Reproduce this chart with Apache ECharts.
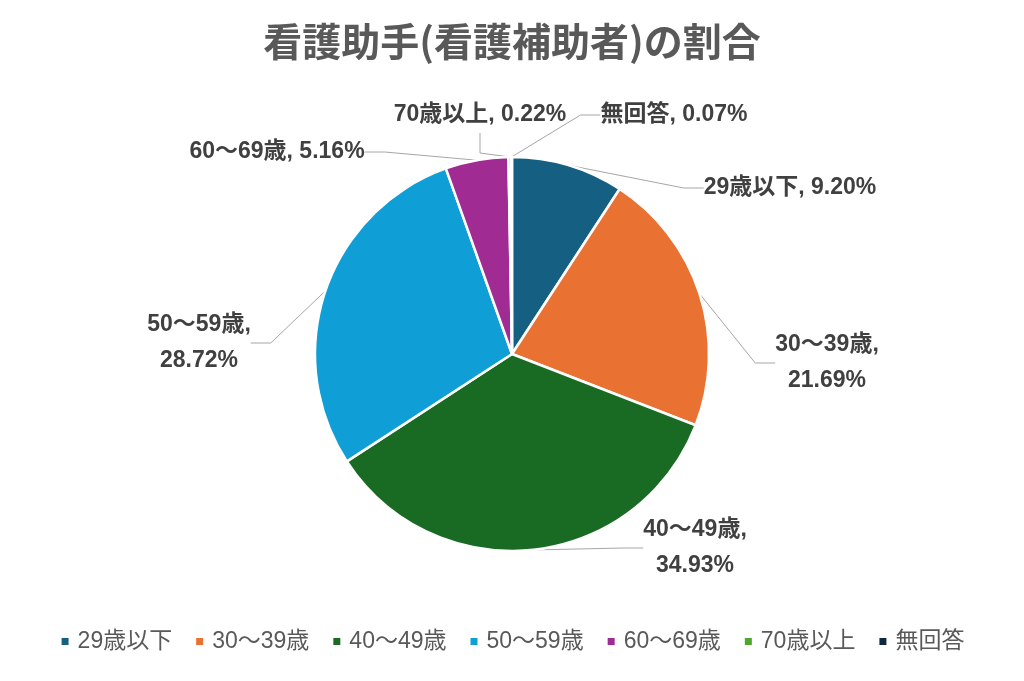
<!DOCTYPE html>
<html><head><meta charset="utf-8">
<script src="https://cdn.jsdelivr.net/npm/echarts@6/dist/echarts.min.js"></script>
<style>html,body{margin:0;padding:0;background:#fff}#c{width:1024px;height:681px}</style>
</head><body><div id="c"></div>
<script>
const categories = ['29歳以下','30～39歳','40～49歳','50～59歳','60～69歳','70歳以上','無回答'];
const values = [9.20, 21.69, 34.93, 28.72, 5.16, 0.22, 0.07];
const colors = ['#156082','#E97132','#196B24','#0F9ED5','#A02B93','#4EA72E','#0E2841'];
const multiLine = [false, true, true, true, false, false, false];
const labelPos = [[790,188],[827,363],[695,548],[199,343],[277,152],[480,115],[674,115]];

const FF = '"Liberation Sans", "Noto Sans CJK JP", sans-serif';
const chart = echarts.init(document.getElementById('c'));
chart.setOption({
  backgroundColor:'#fff',
  title:{text:'看護助手(看護補助者)の割合', left:'center', top:17,
    textStyle:{fontFamily:'"Noto Sans CJK JP", sans-serif', fontSize:39, fontWeight:'bold', color:'#595959'}},
  legend:{bottom:23, left:'center', itemWidth:9, itemHeight:9, itemGap:22, icon:'rect',
    textStyle:{fontFamily:FF, fontSize:23, color:'#595959', padding:[0,0,0,3]},
    data:categories},
  series:[{
    type:'pie', center:[512,354], radius:197, startAngle:90, clockwise:true,
    itemStyle:{borderColor:'#fff', borderWidth:2.5},
    label:{show:true, fontFamily:FF, fontSize:23, fontWeight:'bold', color:'#404040', lineHeight:36,
      formatter: p => p.name + ',' + (multiLine[p.dataIndex] ? '\n' : ' ') + p.value.toFixed(2) + '%'},
    labelLine:{show:true, length:20, length2:20, lineStyle:{color:'#A6A6A6', width:1}},
    labelLayout: p => ({x:labelPos[p.dataIndex][0], y:labelPos[p.dataIndex][1], align:'center', verticalAlign:'middle', hideOverlap:false, moveOverlap:null}),
    emphasis:{disabled:true},
    data: categories.map((c,i)=>({name:c, value:values[i], itemStyle:{color:colors[i]}}))
  }]
});
</script></body></html>
